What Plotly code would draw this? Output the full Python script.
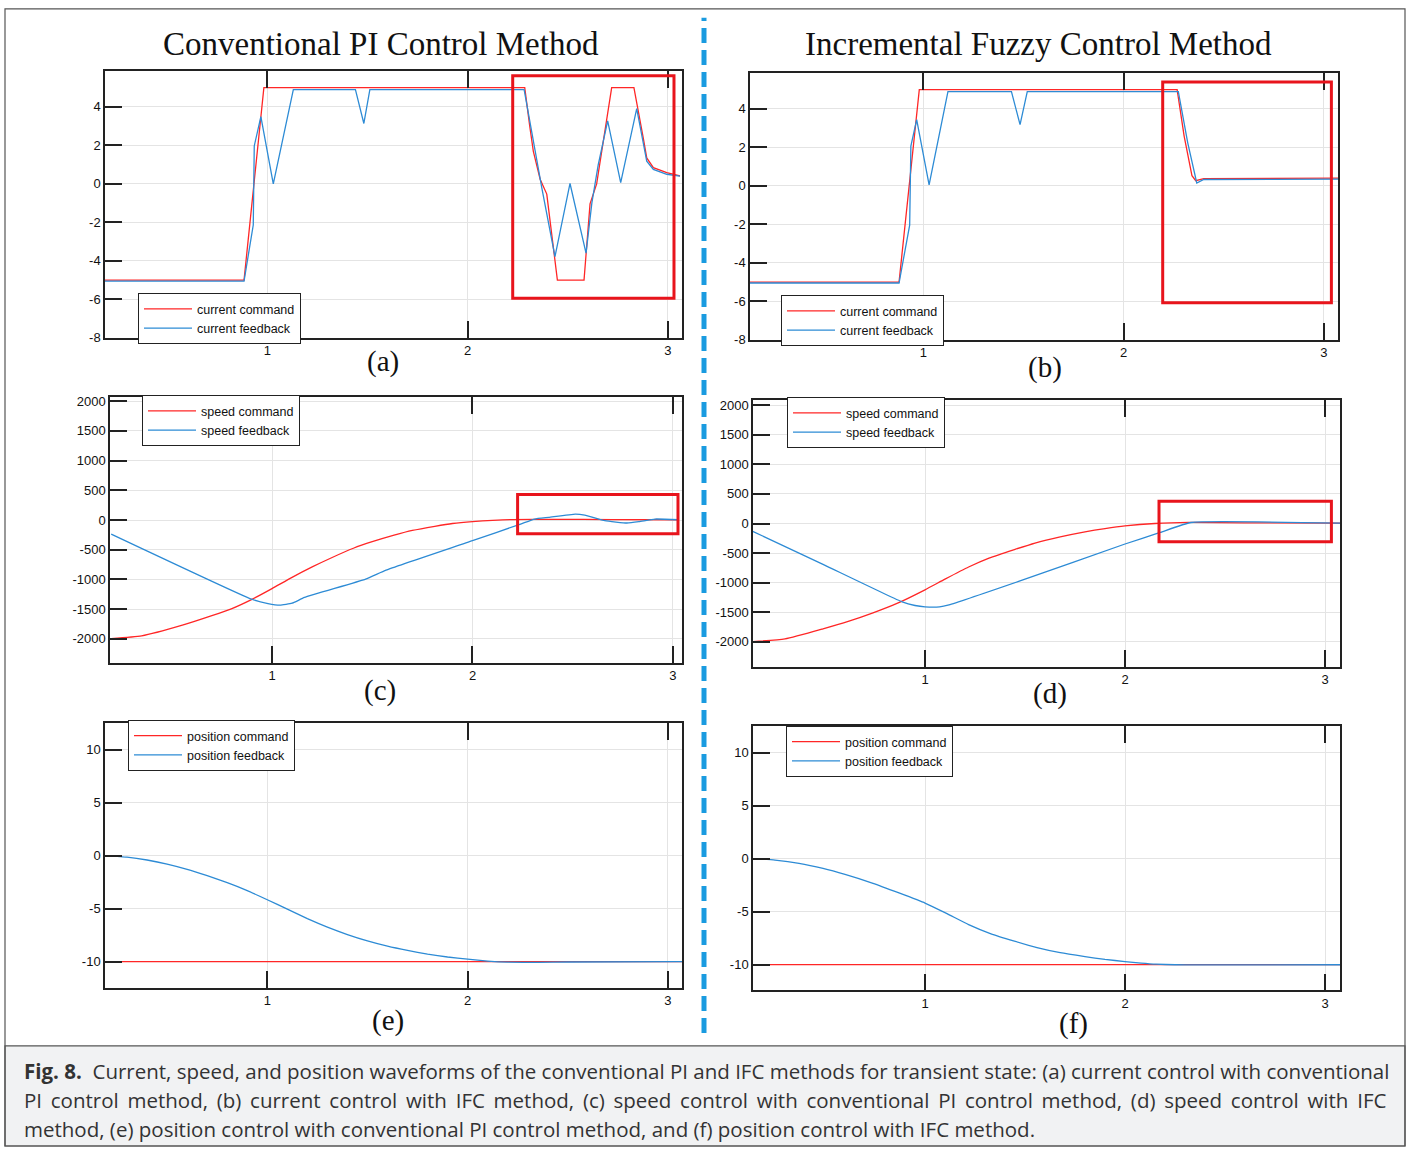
import plotly.graph_objects as go

W, H = 1415, 1154

# ---------------- data ----------------
# (a) current, conventional PI
a_cmd_t = [0.19, 0.884, 0.983, 2.285, 2.31, 2.328, 2.362, 2.395, 2.448, 2.581, 2.611, 2.644, 2.719, 2.830, 2.877, 2.894, 2.927, 2.994, 3.06]
a_cmd_v = [-5, -5, 5, 5, 3.0, 1.69, 0.24, -0.53, -5, -5, -1.04, 0, 5, 5, 2.37, 1.35, 0.84, 0.58, 0.41]
a_fb_t = [0.19, 0.884, 0.93, 0.935, 0.968, 1.03, 1.13, 1.44, 1.482, 1.512, 2.282, 2.37, 2.436, 2.511, 2.591, 2.62, 2.652, 2.699, 2.764, 2.844, 2.894, 2.927, 2.994, 3.06]
a_fb_v = [-5.05, -5.05, -2.14, 1.97, 3.5, 0, 4.9, 4.9, 3.14, 4.9, 4.9, -0.19, -3.78, 0.02, -3.6, -1.0, 1.0, 3.27, 0.07, 3.91, 1.18, 0.75, 0.5, 0.4]

# (b) current, IFC
b_cmd_t = [0.135, 0.879, 0.98, 2.267, 2.302, 2.341, 2.36, 2.40, 3.07]
b_cmd_v = [-5, -5, 5, 5, 2.59, 0.53, 0.27, 0.38, 0.4]
b_fb_t = [0.135, 0.879, 0.932, 0.938, 0.967, 1.029, 1.123, 1.44, 1.483, 1.519, 2.273, 2.32, 2.365, 2.40, 3.07]
b_fb_v = [-5.05, -5.05, -2.04, 2.07, 3.44, 0.05, 4.9, 4.9, 3.18, 4.9, 4.9, 2.24, 0.15, 0.33, 0.35]

# (c) speed, conventional PI
c_cmd_t = [0.198, 0.35, 0.553, 0.7, 0.797, 0.9, 1.0, 1.1, 1.203, 1.3, 1.406, 1.5, 1.609, 1.7, 1.812, 1.9, 2.0, 2.1, 2.2, 2.4, 2.7, 3.03]
c_cmd_v = [-1994, -1950, -1770, -1610, -1495, -1335, -1155, -965, -785, -630, -475, -365, -255, -175, -105, -58, -26, -6, 8, 12, 8, 5]
c_fb_t = [0.198, 0.898, 0.98, 1.04, 1.10, 1.162, 1.467, 1.569, 2.0, 2.24, 2.31, 2.38, 2.513, 2.56, 2.66, 2.77, 2.83, 2.91, 3.03]
c_fb_v = [-236, -1331, -1405, -1432, -1400, -1303, -994, -843, -348, -67, 17, 45, 101, 84, -11, -50, -28, 17, 5]

# (d) speed, IFC
d_cmd_t = [0.137, 0.3, 0.49, 0.62, 0.74, 0.86, 1.0, 1.1, 1.218, 1.32, 1.447, 1.55, 1.676, 1.8, 1.9, 2.0, 2.15, 2.32, 2.6, 3.075]
d_cmd_v = [-1994, -1950, -1780, -1650, -1510, -1350, -1120, -940, -735, -585, -440, -330, -225, -140, -85, -40, 0, 18, 12, 8]
d_fb_t = [0.133, 0.49, 0.886, 0.95, 1.0, 1.073, 1.12, 1.468, 2.0, 2.176, 2.33, 3.075]
d_fb_v = [-123, -690, -1324, -1385, -1408, -1408, -1375, -978, -346, -151, 17, 5]

# (e) position, conventional PI
e_cmd_t = [0.19, 3.07]
e_cmd_v = [-10, -10]
e_fb_t = [0.19, 0.3, 0.4, 0.5, 0.6, 0.7, 0.8, 0.9, 1.0, 1.1, 1.2, 1.3, 1.4, 1.5, 1.6, 1.7, 1.8, 1.9, 2.0, 2.1, 2.2, 2.35, 2.5, 3.07]
e_fb_v = [0, -0.15, -0.42, -0.8, -1.3, -1.9, -2.55, -3.3, -4.17, -5.05, -5.95, -6.75, -7.45, -8.05, -8.55, -8.95, -9.3, -9.57, -9.78, -9.95, -10.05, -10.08, -10.04, -10.0]

# (f) position, IFC
f_cmd_t = [0.14, 3.075]
f_cmd_v = [-10, -10]
f_fb_t = [0.137, 0.25, 0.37, 0.49, 0.6, 0.74, 0.87, 1.0, 1.11, 1.218, 1.33, 1.447, 1.56, 1.676, 1.8, 1.9, 2.0, 2.08, 2.156, 2.25, 2.36, 3.075]
f_fb_v = [0, -0.15, -0.45, -0.93, -1.5, -2.34, -3.25, -4.2, -5.2, -6.23, -7.1, -7.79, -8.4, -8.88, -9.25, -9.52, -9.72, -9.87, -9.97, -10.02, -10.03, -10.02]

x_ticks = [1, 2, 3]
cur_ticks = [4, 2, 0, -2, -4, -6, -8]
spd_ticks = [2000, 1500, 1000, 500, 0, -500, -1000, -1500, -2000]
pos_ticks = [10, 5, 0, -5, -10]

titles = ["Conventional PI Control Method", "Incremental Fuzzy Control Method"]
panel_labels = ["(a)", "(b)", "(c)", "(d)", "(e)", "(f)"]
TS = "\u2009"
caption_lines = [
    "<b>Fig. 8.</b>  Current, speed, and position waveforms of the conventional PI and IFC methods for transient state: (a) current control with conventional",
    ("PI control method, (b) current control with IFC method, (c) speed control with conventional PI control method, (d) speed control with IFC").replace(" ", " " + TS),
    "method, (e) position control with conventional PI control method, and (f) position control with IFC method.",
]

RED = "#ff2626"
BLUE = "#2d8bd5"

def px_x(p):
    return p / W

def px_y(p):
    return 1 - p / H

panels = [
    dict(xd=(105, 682), yd=(69, 338), xr=[0.19, 3.07], yr=[-8, 5.85], yt=cur_ticks,
         cmd=(a_cmd_t, a_cmd_v), fb=(a_fb_t, a_fb_v), names=("current command", "current feedback"),
         leg=(138, 293), smooth=False),
    dict(xd=(750, 1338), yd=(71, 340), xr=[0.135, 3.07], yr=[-8, 5.85], yt=cur_ticks,
         cmd=(b_cmd_t, b_cmd_v), fb=(b_fb_t, b_fb_v), names=("current command", "current feedback"),
         leg=(781, 295), smooth=False),
    dict(xd=(110, 682), yd=(398, 666), xr=[0.192, 3.045], yr=[-2400, 2067], yt=spd_ticks,
         cmd=(c_cmd_t, c_cmd_v), fb=(c_fb_t, c_fb_v), names=("speed command", "speed feedback"),
         leg=(142, 396), smooth=True),
    dict(xd=(753, 1340), yd=(401, 670), xr=[0.14, 3.075], yr=[-2417, 2083], yt=spd_ticks,
         cmd=(d_cmd_t, d_cmd_v), fb=(d_fb_t, d_fb_v), names=("speed command", "speed feedback"),
         leg=(787, 398), smooth=True),
    dict(xd=(105, 682), yd=(727, 994), xr=[0.19, 3.07], yr=[-12.45, 12.5], yt=pos_ticks,
         cmd=(e_cmd_t, e_cmd_v), fb=(e_fb_t, e_fb_v), names=("position command", "position feedback"),
         leg=(128, 724), smooth=True),
    dict(xd=(753, 1340), yd=(730, 997), xr=[0.14, 3.075], yr=[-12.45, 12.5], yt=pos_ticks,
         cmd=(f_cmd_t, f_cmd_v), fb=(f_fb_t, f_fb_v), names=("position command", "position feedback"),
         leg=(786, 730), smooth=True),
]

# red highlight boxes: (panel index, x0, x1, y0, y1)
boxes = [
    (0, 2.225, 3.03, -5.95, 5.62),
    (1, 2.195, 3.037, -6.08, 5.4),
    (2, 2.225, 3.025, -230, 430),
    (3, 2.17, 3.032, -310, 375),
]

fig = go.Figure()
layout = dict(width=W, height=H, margin=dict(l=0, r=0, t=0, b=0),
              paper_bgcolor="white", plot_bgcolor="white", showlegend=True)
shapes = []
annotations = []

tickfont = dict(family="Liberation Sans, Arial", size=13, color="#111")

for i, p in enumerate(panels):
    k = "" if i == 0 else str(i + 1)
    xa, ya = "x" + k, "y" + k
    leg = "legend" + k
    fig.add_trace(go.Scatter(x=p["cmd"][0], y=p["cmd"][1], mode="lines", name=p["names"][0],
                             line=dict(color=RED, width=1.3, shape="spline" if p["smooth"] else "linear",
                                       smoothing=0.5),
                             xaxis=xa, yaxis=ya, legend=leg))
    fig.add_trace(go.Scatter(x=p["fb"][0], y=p["fb"][1], mode="lines", name=p["names"][1],
                             line=dict(color=BLUE, width=1.3, shape="spline" if p["smooth"] else "linear",
                                       smoothing=0.4),
                             xaxis=xa, yaxis=ya, legend=leg))
    common = dict(showline=True, linecolor="#222", linewidth=1.5, ticks="inside", ticklen=17,
                  tickwidth=1.5, tickcolor="#222", showgrid=True, gridcolor="#e4e4e4", gridwidth=1,
                  zeroline=False, tickfont=tickfont, fixedrange=True)
    layout["xaxis" + k] = dict(domain=[px_x(p["xd"][0]), px_x(p["xd"][1])], range=p["xr"],
                               anchor=ya, tickvals=x_ticks, ticktext=[str(v) for v in x_ticks],
                               mirror="ticks", **common)
    layout["yaxis" + k] = dict(domain=[px_y(p["yd"][1]), px_y(p["yd"][0])], range=p["yr"],
                               anchor=xa, tickvals=p["yt"], ticktext=[str(v) for v in p["yt"]],
                               mirror=True, **common)
    layout[leg] = dict(x=px_x(p["leg"][0]), y=px_y(p["leg"][1]), xanchor="left", yanchor="top",
                       xref="paper", yref="paper", bgcolor="white", bordercolor="#222", borderwidth=1,
                       font=dict(family="Liberation Sans, Arial", size=12.5, color="#111"),
                       itemwidth=48, tracegroupgap=0)

for (i, x0, x1, y0, y1) in boxes:
    k = "" if i == 0 else str(i + 1)
    shapes.append(dict(type="rect", xref="x" + k, yref="y" + k, x0=x0, x1=x1, y0=y0, y1=y1,
                       line=dict(color="#e8141c", width=3), fillcolor="rgba(0,0,0,0)", layer="above"))

# outer frame & caption box
shapes.append(dict(type="rect", xref="paper", yref="paper", x0=px_x(5), x1=px_x(1405), y0=0, y1=px_y(1053),
                   line=dict(color="#555", width=1.2), fillcolor="#f1f2f3", layer="below"))
shapes.append(dict(type="rect", xref="paper", yref="paper", x0=px_x(5), x1=px_x(1405), y0=0, y1=px_y(6),
                   line=dict(color="#555", width=1.2), fillcolor="rgba(0,0,0,0)", layer="below"))
# dashed separator
shapes.append(dict(type="line", xref="paper", yref="paper", x0=px_x(704), x1=px_x(704),
                   y0=px_y(1040), y1=px_y(15), line=dict(color="#1a9be0", width=5, dash="15px,7px")))

# titles
for txt, cx in zip(titles, [381, 1038]):
    annotations.append(dict(text=txt, x=px_x(cx), y=px_y(41), xref="paper", yref="paper",
                            showarrow=False, xanchor="center", yanchor="middle",
                            font=dict(family="Liberation Serif, Times New Roman", size=33, color="#111")))
# panel labels
for lab, (cx, cy) in zip(panel_labels, [(383, 362), (1045, 368), (380, 694), (1050, 697), (388, 1027), (1073, 1030)]):
    annotations.append(dict(text=lab, x=px_x(cx), y=px_y(cy), xref="paper", yref="paper",
                            showarrow=False, xanchor="center", yanchor="middle",
                            font=dict(family="Liberation Serif, Times New Roman", size=29, color="#111")))
# caption
for line, cy in zip(caption_lines, [1078, 1108, 1137]):
    annotations.append(dict(text=line, x=px_x(22), y=px_y(cy), xref="paper", yref="paper",
                            showarrow=False, xanchor="left", yanchor="middle",
                            font=dict(family="Open Sans, Noto Sans", size=20.5, color="#333")))

layout["shapes"] = shapes
layout["annotations"] = annotations
fig.update_layout(**layout)
fig.write_html("out.html")
